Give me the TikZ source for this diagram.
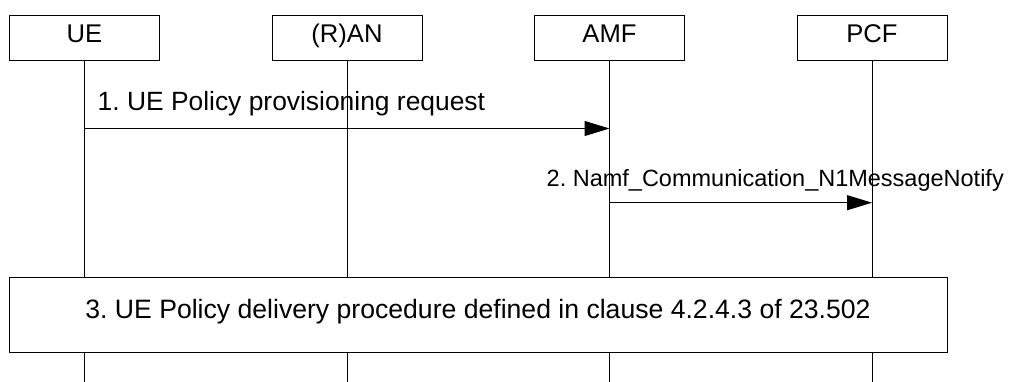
\documentclass[tikz,border=0pt]{standalone}
\usepackage{fontspec}
\setmainfont{Liberation Sans}
\frenchspacing
\usetikzlibrary{positioning}
\usetikzlibrary{arrows.meta}
\tikzset{entity/.style={draw,line width=1pt,outer sep=0pt,minimum width=150pt,minimum height=45pt,text height=0.72em,text depth=0pt,font=\fontsize{25.6}{30}\selectfont}}
\tikzset{lifeline/.style={line width=1pt}}
\tikzset{msg/.style={line width=1pt,-{Triangle[length=25pt,width=15pt]}}}
\tikzset{msgtext/.style={inner sep=0pt,anchor=base west}}
\tikzset{procbox/.style={draw,fill=white,line width=1pt,minimum width=938pt,minimum height=74pt,text height=0.72em,text depth=0pt,font=\fontsize{26.6}{30}\selectfont}}

\begin{document}
\begin{tikzpicture}[x=1pt,y=-1pt]
                \useasboundingbox (0,0) rectangle (1010,382);
                \node[entity] (ue) at (84.5,38.5) {UE};
                \node[entity,right=112.5pt of ue] (ran) {(R)AN};
                \node[entity,right=112.5pt of ran] (amf) {AMF};
                \node[entity,right=112.5pt of amf] (pcf) {PCF};
                \coordinate (bottom) at (0,382);
                \foreach \n in {ue,ran,amf,pcf}
                    \draw[lifeline] (\n.south) -- (\n.south |- bottom);
                % 1. request
                \coordinate (m1) at (0,128.5);
                \draw[msg] (ue |- m1) -- (amf |- m1);
                \node[msgtext,font=\fontsize{26.4}{30}\selectfont] (t1) at ([xshift=13pt,yshift=17.5pt]ue |- m1) {1. UE Policy provisioning request};
                % 2. notify
                \coordinate (m2) at (0,202.7);
                \draw[msg] (amf |- m2) -- (pcf |- m2);
                \node[msgtext,font=\fontsize{23.5}{26}\selectfont] (t2) at ([xshift=-63pt,yshift=16pt]amf |- m2) {2. Namf\_Communication\_N1MessageNotify};
                % 3. delivery
                \node[procbox] (proc) at (478,315) {3. UE Policy delivery procedure defined in clause 4.2.4.3 of 23.502};
            \end{tikzpicture}
\end{document}
